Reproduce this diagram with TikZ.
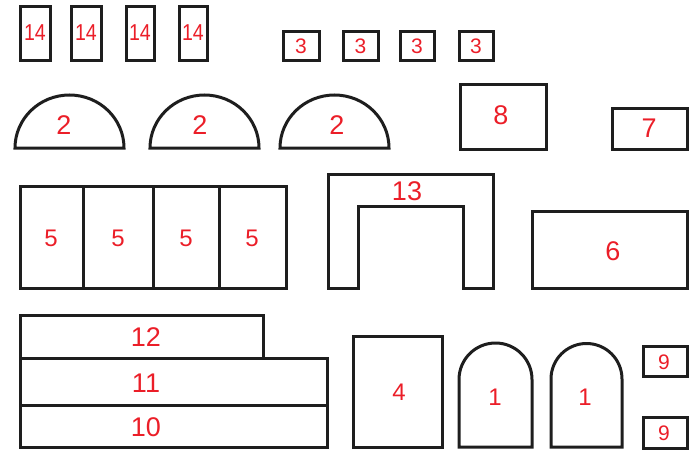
\documentclass[tikz,border=0pt]{standalone}
\usepackage{fontspec}
\setmainfont{Liberation Sans}
\definecolor{lbl}{RGB}{235,30,40}
\definecolor{ink}{RGB}{30,30,30}
\tikzset{
  part/.style={draw=ink, line width=3pt, line join=miter},
  lab/.style={text=lbl, inner sep=0pt, font=\fontsize{24}{24}\selectfont},
  labs/.style={text=lbl, inner sep=0pt, font=\fontsize{21}{21}\selectfont},
  labb/.style={text=lbl, inner sep=0pt, font=\fontsize{27}{27}\selectfont},
}
\begin{document}
\begin{tikzpicture}[x=1pt,y=-1pt]
\useasboundingbox (0,0) rectangle (696,452);
% 14
\foreach \a/\b [count=\i] in {20/50,71/101,126/154,179/207}{
  \draw[part] (\a,7) rectangle (\b,61);
  \node[lab, font=\fontsize{23}{23}\selectfont, xscale=0.85] (f\i) at ({(\a+\b)/2},33) {14};
}
% 3
\foreach \a/\b [count=\i] in {283/319,343/378,400/434,459/493}{
  \draw[part] (\a,32) rectangle (\b,61);
  \node[labs] (t\i) at ({(\a+\b)/2},46.5) {3};
}
% 2
\foreach \a/\c [count=\i] in {15/64,150/200,280/337}{
  \draw[part] (\a,148) arc[start angle=180,end angle=360,x radius=54.5,y radius=53] -- cycle;
  \node[labb] (s\i) at (\c,125) {2};
}
% 8
\draw[part] (460,84) rectangle (546,149);
\node[labb] (e8) at (501,115) {8};
% 7
\draw[part] (612,108) rectangle (687,149);
\node[labb] (e7) at (649,128) {7};
% 5
\draw[part] (20,186) rectangle (286,288);
\draw[part] (83,186) -- (83,288);
\draw[part] (153,186) -- (153,288);
\draw[part] (219,186) -- (219,288);
\node[lab] (v1) at (51,238) {5};
\node[lab] (v2) at (118,238) {5};
\node[lab] (v3) at (186,238) {5};
\node[lab] (v4) at (252,238) {5};
% 13
\draw[part] (328,288) -- (328,174) -- (493,174) -- (493,288) -- (463,288) -- (463,206) -- (358,206) -- (358,288) -- cycle;
\node[labb] (th) at (407,191) {13};
% 6
\draw[part] (532,211) rectangle (687,288);
\node[labb] (sx) at (613,251) {6};
% 12 11 10
\draw[part] (20,315) rectangle (263,358);
\draw[part] (20,358) rectangle (327,405);
\draw[part] (20,405) rectangle (327,447);
\node[labb] (tw) at (146,337) {12};
\node[labb] (el) at (146,383) {11};
\node[labb] (te) at (146,427) {10};
% 4
\draw[part] (353,336) rectangle (442,447);
\node[lab] (fo) at (399,392) {4};
% 1
\draw[part] (459,447) -- (459,379.5) arc[start angle=180,end angle=360,radius=36.5] -- (532,447) -- cycle;
\draw[part] (551,447) -- (551,379) arc[start angle=180,end angle=360,radius=35.5] -- (622,447) -- cycle;
\node[lab] (o1) at (495,397) {1};
\node[lab] (o2) at (585,397) {1};
% 9
\draw[part] (643,346) rectangle (687,376);
\draw[part] (643,417) rectangle (687,448);
\node[labs] (n1) at (664,362) {9};
\node[labs] (n2) at (664,433) {9};
\end{tikzpicture}
\end{document}
